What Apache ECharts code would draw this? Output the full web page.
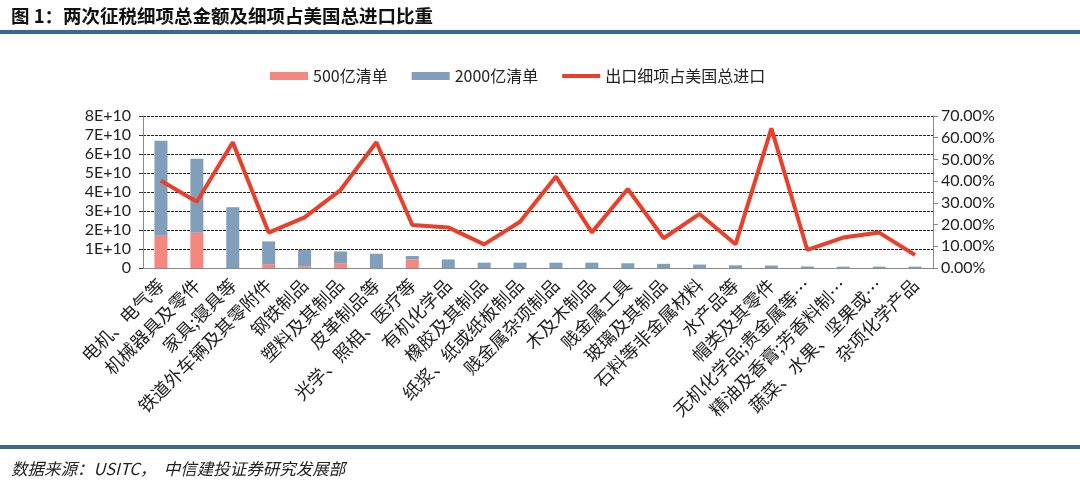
<!DOCTYPE html>
<html>
<head>
<meta charset="utf-8">
<script src="https://cdn.jsdelivr.net/npm/echarts@6/dist/echarts.min.js"></script>
<style>
  html, body { margin: 0; padding: 0; background: #fff; }
  #chart { width: 1080px; height: 483px; }
</style>
</head>
<body>
<div id="chart"></div>
<script>
var categories = [
  "电机、电气等", "机械器具及零件", "家具;寝具等", "铁道外车辆及其零附件", "钢铁制品",
  "塑料及其制品", "皮革制品等", "光学、照相、医疗等", "有机化学品", "橡胶及其制品",
  "纸浆、纸或纸板制品", "贱金属杂项制品", "木及木制品", "贱金属工具", "玻璃及其制品",
  "石料等非金属材料", "水产品等", "帽类及其零件", "无机化学品;贵金属等…", "精油及香膏;芳香料制…",
  "蔬菜、水果、坚果或…", "杂项化学产品"
];
// 500亿清单 (bottom part of the stack)
var list500 = [1.7e10, 1.85e10, 0, 0.2e10, 0.08e10, 0.25e10, 0, 0.45e10, 0, 0, 0, 0, 0, 0, 0, 0, 0, 0, 0, 0, 0, 0];
// 2000亿清单 (top part of the stack)
var list2000 = [5.0e10, 3.9e10, 3.2e10, 1.2e10, 0.87e10, 0.62e10, 0.75e10, 0.18e10, 0.45e10, 0.28e10,
  0.28e10, 0.28e10, 0.28e10, 0.25e10, 0.22e10, 0.18e10, 0.14e10, 0.13e10, 0.08e10, 0.07e10, 0.07e10, 0.07e10];
// 出口细项占美国总进口 (%)
var sharePct = [40.2, 30.5, 57.9, 16.3, 23.3, 35.9, 57.9, 19.8, 18.7, 10.9, 21.3, 42.1, 16.4, 36.4, 13.7,
  24.9, 10.9, 64.3, 8.3, 14.0, 16.3, 6.0];

var cjk = '"Noto Sans CJK SC", sans-serif';
var num = 'Lato, "Noto Sans", sans-serif';

var myChart = echarts.init(document.getElementById("chart"));
myChart.setOption({
  animation: false,
  title: [
    {
      text: "图 1：两次征税细项总金额及细项占美国总进口比重",
      left: 6, top: 2,
      textStyle: { fontFamily: cjk, fontSize: 18.5, fontWeight: "bold", color: "#111" }
    },
    {
      text: "数据来源：USITC，  中信建投证券研究发展部",
      left: 6, top: 455,
      textStyle: { fontFamily: cjk, fontSize: 16.5, fontWeight: "normal", fontStyle: "italic", color: "#222" }
    }
  ],
  graphic: [
    { type: "rect", shape: { x: 0, y: 30, width: 1080, height: 4 }, style: { fill: "#3d6793" } },
    { type: "rect", shape: { x: 0, y: 445, width: 1080, height: 4 }, style: { fill: "#3d6793" } }
  ],
  legend: {
    top: 63,
    left: 265,
    itemWidth: 38,
    itemHeight: 8,
    itemGap: 24,
    textStyle: { fontFamily: cjk, fontSize: 16, color: "#222" },
    data: [
      { name: "500亿清单", icon: "rect" },
      { name: "2000亿清单", icon: "rect" },
      { name: "出口细项占美国总进口", icon: "path://M0,0 L38,0 L38,4 L0,4 Z" }
    ]
  },
  grid: { left: 143, right: 147, top: 116, bottom: 215, containLabel: false },
  xAxis: {
    type: "category",
    data: categories,
    axisLine: { lineStyle: { color: "#8a8a8a" } },
    axisTick: { length: 5, lineStyle: { color: "#8a8a8a" } },
    axisLabel: { rotate: 45, interval: 0, margin: 14, fontFamily: cjk, fontSize: 18, color: "#222" }
  },
  yAxis: [
    {
      type: "value",
      min: 0, max: 8e10, interval: 1e10,
      axisLine: { show: true, lineStyle: { color: "#8a8a8a" } },
      axisTick: { show: true, length: 5, lineStyle: { color: "#333", type: "dashed" } },
      axisLabel: {
        fontFamily: num, fontSize: 16, color: "#222", margin: 12,
        formatter: function (v) { return v === 0 ? "0" : (v / 1e10) + "E+10"; }
      },
      splitLine: { show: true, lineStyle: { color: "#222", type: [3, 1], width: 1 } }
    },
    {
      type: "value",
      min: 0, max: 70, interval: 10,
      position: "right",
      axisLine: { show: true, lineStyle: { color: "#8a8a8a" } },
      axisTick: { show: true, length: 5, lineStyle: { color: "#8a8a8a" } },
      axisLabel: {
        fontFamily: num, fontSize: 16, color: "#222", margin: 8,
        formatter: function (v) { return v.toFixed(2) + "%"; }
      },
      splitLine: { show: false }
    }
  ],
  series: [
    {
      name: "500亿清单",
      type: "bar",
      stack: "total",
      barWidth: 13,
      data: list500,
      itemStyle: { color: "#f4877f" }
    },
    {
      name: "2000亿清单",
      type: "bar",
      stack: "total",
      barWidth: 13,
      data: list2000,
      itemStyle: { color: "#7f9fba" }
    },
    {
      name: "出口细项占美国总进口",
      type: "line",
      yAxisIndex: 1,
      data: sharePct,
      symbol: "none",
      lineStyle: { color: "#e8402a", width: 4 },
      itemStyle: { color: "#e8402a" }
    }
  ]
});
</script>
</body>
</html>
